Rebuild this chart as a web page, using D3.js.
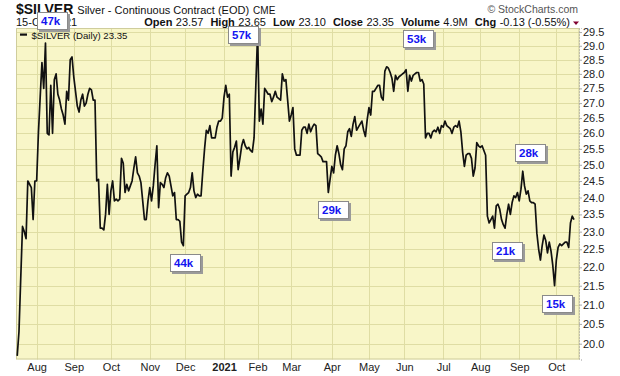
<!DOCTYPE html>
<html>
<head>
<meta charset="utf-8">
<script src="https://cdn.jsdelivr.net/npm/d3@7/dist/d3.min.js"></script>
<style>
  body { margin: 0; background: #fff; }
  text { font-family: Arial, "Liberation Sans", sans-serif; }
</style>
</head>
<body>
<div id="chart"></div>
<script>
// daily closes, one per session
var closes = [
  19.7, 20.3, 21.7, 23.15, 23.0, 22.8, 24.5, 24.4, 24.3, 23.35,
  24.5, 24.5, 26.0, 27.2, 28.4, 27.5, 29.1, 26.0, 25.95, 27.6,
  26.0, 27.8, 28.0, 27.3, 27.1, 26.8, 26.6, 26.3, 27.4, 27.1,
  28.5, 28.6, 27.9, 27.4, 26.9, 26.7, 27.1, 27.3, 26.9, 27.0,
  27.3, 27.5, 27.45, 27.1, 27.1, 24.5, 24.55, 23.1, 23.1, 23.05,
  23.5, 24.4, 23.5, 24.2, 24.5, 23.9, 23.95, 23.9, 23.95, 25.2,
  25.05, 24.15, 24.4, 24.2, 24.35, 24.5, 24.9, 25.25, 24.75, 24.65,
  24.45, 23.9, 23.35, 23.35, 23.9, 24.3, 23.9, 24.35, 25.0, 25.6,
  23.7, 24.45, 24.4, 24.3, 24.6, 24.75, 24.65, 24.35, 24.05, 24.15,
  23.35, 23.35, 23.3, 22.7, 22.6, 24.05, 24.1, 24.15, 24.3, 24.75,
  24.2, 24.0, 24.1, 24.05, 24.05, 24.8, 25.5, 26.1, 26.0, 26.25,
  25.85, 25.85, 25.85, 26.2, 26.4, 26.4, 26.5, 27.2, 27.6, 27.2,
  27.3, 24.65, 25.4, 25.55, 25.75, 24.85, 25.2, 25.6, 25.8, 25.6,
  25.5, 25.55, 25.45, 25.4, 25.85, 27.6, 29.45, 26.4, 26.8, 26.3,
  27.5, 27.4, 27.3, 27.3, 27.05, 27.2, 27.4, 27.2, 27.15, 27.1,
  28.0, 27.75, 27.8, 27.1, 26.4, 26.6, 26.85, 25.5, 25.3, 25.3,
  25.3, 26.1, 26.2, 26.2, 26.0, 26.3, 26.05, 26.2, 26.3, 26.25,
  25.35, 25.3, 25.25, 25.1, 25.1, 25.1, 24.15, 24.55, 24.95, 24.75,
  25.3, 25.6, 25.35, 25.0, 24.85, 25.5, 25.6, 26.05, 26.15, 25.9,
  26.3, 26.55, 26.1, 26.2, 26.3, 26.4, 26.1, 25.9, 26.45, 26.85,
  26.6, 27.4, 27.4, 27.5, 27.6, 27.6, 27.2, 27.1, 28.1, 28.25,
  28.2, 28.05, 27.85, 27.4, 27.95, 27.8, 27.9, 27.95, 28.0, 28.05,
  28.15, 27.4, 27.95, 27.75, 27.95, 28.0, 28.05, 28.05, 27.75, 27.8,
  27.65, 25.85, 26.0, 26.0, 25.85, 26.05, 26.1, 26.05, 26.2, 26.0,
  26.25, 26.2, 26.4, 26.25, 26.2, 26.15, 26.0, 26.2, 26.25, 26.2,
  26.4, 26.05, 25.4, 24.95, 25.3, 25.35, 25.35, 25.2, 24.65, 24.9,
  25.7, 25.6, 25.55, 25.6, 25.45, 25.3, 23.45, 23.25, 23.35, 23.45,
  23.1, 23.75, 23.8, 23.65, 23.35, 23.2, 23.1, 23.5, 23.8, 23.5,
  23.85, 24.05, 24.0, 24.15, 23.9, 24.25, 24.8, 24.35, 24.1, 24.2,
  23.9, 23.85, 23.85, 23.8, 22.95, 22.5, 22.2, 22.6, 22.9, 22.75,
  22.4, 22.7, 22.45, 22.05, 21.5, 22.2, 22.55, 22.65, 22.6, 22.65,
  22.7, 22.7, 22.55, 23.25, 23.45, 23.35
];

// trading calendar
var sessionStart = "2020-07-17";
var sessionEnd = "2021-10-15";
var holidays = ["2020-09-07", "2020-11-26", "2020-12-25", "2021-01-01", "2021-01-18",
  "2021-02-15", "2021-04-02", "2021-05-31", "2021-07-05", "2021-09-06"];

var monthLabels = ["Aug", "Sep", "Oct", "Nov", "Dec", "2021", "Feb", "Mar", "Apr", "May",
  "Jun", "Jul", "Aug", "Sep", "Oct"];
var yTicks = [20.0, 20.5, 21.0, 21.5, 22.0, 22.5, 23.0, 23.5, 24.0, 24.5, 25.0, 25.5,
  26.0, 26.5, 27.0, 27.5, 28.0, 28.5, 29.0, 29.5];

// volume call-outs (text, session index)
var volText = ["47k", "57k", "53k", "44k", "29k", "28k", "21k", "15k"];
var volSession = [16, 136, 220, 94, 176, 286, 270, 304];

// quote line in the header
var quoteLabels = ["Open", "High", "Low", "Close", "Volume", "Chg"];
var quoteValues = ["23.57", "23.65", "23.10", "23.35", "4.9M", "-0.13 (-0.55%)"];

var width = 620;
var height = 376;
var plot = { left: 16, right: 579.5, top: 28, bottom: 359.5 };

var parse = d3.timeParse("%Y-%m-%d");
var fmt = d3.timeFormat("%Y-%m-%d");
var sessions = d3.timeDay.range(parse(sessionStart), d3.timeDay.offset(parse(sessionEnd), 1))
  .filter(function (d) { return d.getDay() % 6 !== 0 && holidays.indexOf(fmt(d)) < 0; });

// first session of each month gets a gridline + label
var monthStarts = [];
sessions.forEach(function (d, i) {
  if (i > 0 && d.getMonth() !== sessions[i - 1].getMonth()) monthStarts.push(i);
});

var x = d3.scaleLinear().domain([0, closes.length - 1]).range([17.2, 574]);
var y = d3.scaleLog().domain([19.61, 29.65]).range([plot.bottom, plot.top]);

var svg = d3.select("#chart").append("svg")
  .attr("width", width).attr("height", height);

svg.append("rect")
  .attr("x", plot.left).attr("y", plot.top)
  .attr("width", plot.right - plot.left).attr("height", plot.bottom - plot.top)
  .attr("fill", "#f8f6c8");

// horizontal grid
svg.append("g").selectAll("line").data(yTicks).join("line")
  .attr("x1", plot.left).attr("x2", plot.right)
  .attr("y1", function (d) { return Math.round(y(d)) + 0.5; })
  .attr("y2", function (d) { return Math.round(y(d)) + 0.5; })
  .attr("stroke", "#dfdda4").attr("stroke-width", 1);

// vertical grid
svg.append("g").selectAll("line").data(monthStarts).join("line")
  .attr("x1", function (d) { return Math.round(x(d)) + 0.5; })
  .attr("x2", function (d) { return Math.round(x(d)) + 0.5; })
  .attr("y1", plot.top).attr("y2", plot.bottom)
  .attr("stroke", "#dfdda4").attr("stroke-width", 1);

svg.append("rect")
  .attr("x", plot.left + 0.5).attr("y", plot.top + 0.5)
  .attr("width", plot.right - plot.left - 1).attr("height", plot.bottom - plot.top - 1)
  .attr("fill", "none").attr("stroke", "#cfcd9c");

// y axis on the right
var yAxis = svg.append("g")
  .attr("transform", "translate(" + (plot.right - 0.5) + ",0)")
  .call(d3.axisRight(y).tickValues(yTicks).tickFormat(d3.format(".1f")).tickSize(3).tickPadding(1));
yAxis.select(".domain").attr("stroke", "#999").attr("stroke-dasharray", "1,2");
yAxis.selectAll(".tick line").attr("stroke", "#aaa");
yAxis.selectAll("text").attr("fill", "#222").attr("font-size", "11px")
  .attr("font-family", "Arial, 'Liberation Sans', sans-serif");

// x axis labels
var xAxis = svg.append("g")
  .attr("transform", "translate(0," + plot.bottom + ")")
  .call(d3.axisBottom(x).tickValues(monthStarts)
    .tickFormat(function (d, i) { return monthLabels[i]; }).tickSize(0).tickPadding(4));
xAxis.select(".domain").remove();
xAxis.selectAll("text").attr("fill", "#222").attr("font-size", "11px")
  .attr("font-family", "Arial, 'Liberation Sans', sans-serif")
  .attr("font-weight", function (d, i) { return monthLabels[i] === "2021" ? "bold" : "normal"; });

// price line
var line = d3.line()
  .x(function (d, i) { return x(i); })
  .y(function (d) { return y(d); });
svg.append("path").datum(closes)
  .attr("d", line)
  .attr("fill", "none").attr("stroke", "#111").attr("stroke-width", 1.7)
  .attr("stroke-linejoin", "round");

// legend
svg.append("rect").attr("x", 20).attr("y", 33.5).attr("width", 7).attr("height", 2.2).attr("fill", "#111");
svg.append("text").attr("x", 31.5).attr("y", 38.5)
  .attr("font-family", "'DejaVu Sans Mono', monospace").attr("font-size", "9.6px").attr("fill", "#111")
  .text("$SILVER (Daily) " + d3.format(".2f")(closes[closes.length - 1]));

// header
var title = svg.append("text").attr("x", 16).attr("y", 13.5).attr("fill", "#111");
title.append("tspan").attr("font-weight", "bold").attr("font-size", "14px").text("$SILVER");
title.append("tspan").attr("font-size", "11px").attr("dx", 4).text("Silver - Continuous Contract (EOD)");
title.append("tspan").attr("font-size", "10px").attr("dx", 4).text("CME");

svg.append("text").attr("x", 578).attr("y", 13).attr("text-anchor", "end")
  .attr("font-size", "10.5px").attr("fill", "#555").text("\u00a9 StockCharts.com");

svg.append("text").attr("x", 16).attr("y", 25.5).attr("font-size", "11px").attr("fill", "#111")
  .text("15-Oct-2021");

var quote = svg.append("text").attr("x", 570).attr("y", 25.5).attr("text-anchor", "end")
  .attr("font-size", "11px").attr("fill", "#111");
quoteLabels.forEach(function (lab, i) {
  quote.append("tspan").attr("font-weight", "bold").attr("dx", i ? 7 : 0).text(lab);
  quote.append("tspan").attr("dx", 3.5).text(quoteValues[i]);
});
svg.append("path").attr("d", "M573,21.5 L579,21.5 L576,25 Z").attr("fill", "#800030");

// volume call-out boxes, nudged off the peaks / troughs
var nudge = [[-8, -31.5], [-29.3, -7.6], [-2.8, -40], [-13.4, 8.5],
  [-10, 8.4], [-7.7, -27.3], [-2.7, 13.4], [-12.8, 9.7]];
var boxes = svg.append("g").selectAll("g").data(volText).join("g")
  .attr("transform", function (d, i) {
    var s = volSession[i];
    return "translate(" + Math.round(x(s) + nudge[i][0]) + "," + Math.round(y(closes[s]) + nudge[i][1]) + ")";
  });
boxes.append("rect").attr("x", 2).attr("y", 2).attr("width", 31).attr("height", 18).attr("fill", "#9a9a9a");
boxes.append("rect").attr("x", 0.5).attr("y", 0.5).attr("width", 30).attr("height", 17)
  .attr("fill", "#fff").attr("stroke", "#8a8a8a");
boxes.append("text").attr("x", 4).attr("y", 13)
  .attr("font-weight", "bold").attr("font-size", "11.5px").attr("fill", "#1414f0")
  .text(function (d) { return d; });
</script>
</body>
</html>
